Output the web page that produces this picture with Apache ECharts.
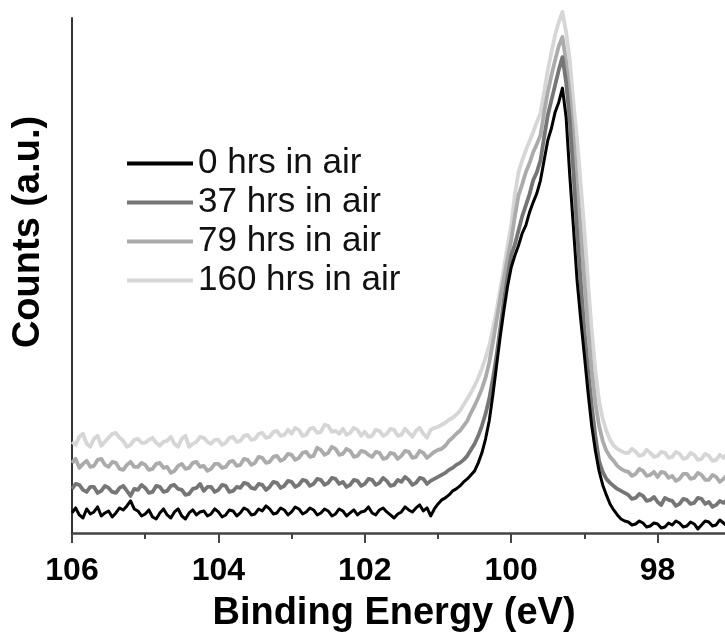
<!DOCTYPE html>
<html>
<head>
<meta charset="utf-8">
<script src="https://cdn.jsdelivr.net/npm/echarts@6/dist/echarts.min.js"></script>
<style>
html,body{margin:0;padding:0;background:#fff;}
#chart{width:725px;height:635px;}
</style>
</head>
<body>
<div id="chart"></div>
<script>
// Binding energy grid (eV)
var energy = [
106.00,105.95,105.90,105.85,105.80,105.75,105.70,105.65,105.60,105.55,105.50,105.45,105.40,105.35,105.30,105.25,105.20,105.15,105.10,105.05,
105.00,104.95,104.90,104.85,104.80,104.75,104.70,104.65,104.60,104.55,104.50,104.45,104.40,104.35,104.30,104.25,104.20,104.15,104.10,104.05,
104.00,103.95,103.90,103.85,103.80,103.75,103.70,103.65,103.60,103.55,103.50,103.45,103.40,103.35,103.30,103.25,103.20,103.15,103.10,103.05,
103.00,102.95,102.90,102.85,102.80,102.75,102.70,102.65,102.60,102.55,102.50,102.45,102.40,102.35,102.30,102.25,102.20,102.15,102.10,102.05,
102.00,101.95,101.90,101.85,101.80,101.75,101.70,101.65,101.60,101.55,101.50,101.45,101.40,101.35,101.30,101.25,101.20,101.15,101.10,101.05,
101.00,100.95,100.90,100.85,100.80,100.75,100.70,100.65,100.60,100.55,100.50,100.45,100.40,100.35,100.30,100.25,100.20,100.15,100.10,100.05,
100.00,99.95,99.90,99.85,99.80,99.75,99.70,99.65,99.60,99.55,99.50,99.45,99.40,99.35,99.30,99.25,99.20,99.15,99.10,99.05,
99.00,98.95,98.90,98.85,98.80,98.75,98.70,98.65,98.60,98.55,98.50,98.45,98.40,98.35,98.30,98.25,98.20,98.15,98.10,98.05,
98.00,97.95,97.90,97.85,97.80,97.75,97.70,97.65,97.60,97.55,97.50,97.45,97.40,97.35,97.30,97.25,97.20,97.15,97.10,97.05,97.00
];
var seriesNames = ['0 hrs in air','37 hrs in air','79 hrs in air','160 hrs in air'];
var counts0 = [
20,25,18,15,24,19,21,26,17,20,22,16,20,25,23,27,32,24,22,17,
19,23,16,14,20,24,18,15,21,24,17,14,20,23,18,21,22,17,19,24,
21,16,18,23,22,17,20,25,23,18,19,24,22,27,24,19,20,25,23,18,
21,26,24,19,21,25,23,18,20,24,22,17,19,24,22,17,20,23,18,21,
22,26,20,18,23,25,21,18,15,19,21,26,23,21,25,28,22,25,17,24,
29,33,35,38,42,44,47,51,54,58,62,70,80,94,112,138,167,196,222,246,
265,277,287,299,307,320,330,339,352,372,392,404,420,430,444,415,357,305,252,213,
177,140,107,82,62,48,38,29,23,18,14,12,11,8,9,12,10,6,7,10,
9,5,6,10,8,12,10,6,7,11,9,4,8,12,11,7,8,13,10,7,9
];
var counts37 = [
44,49,48,43,41,46,46,40,42,47,45,41,40,45,47,42,37,44,43,48,
45,40,41,47,46,41,42,47,48,44,43,38,39,44,45,49,42,46,46,41,
43,48,47,41,42,46,45,50,49,45,44,49,48,43,46,51,50,45,47,52,
51,46,48,53,52,47,49,54,53,48,50,55,54,49,51,46,48,53,52,47,
49,54,53,48,50,55,52,47,48,53,51,56,53,48,50,55,54,49,52,54,
56,58,60,63,65,68,70,73,77,83,89,97,107,119,134,154,177,204,232,256,
277,288,302,316,327,338,352,360,372,395,417,432,447,462,475,450,412,360,302,250,
202,162,127,97,72,61,54,50,47,44,42,40,38,34,35,39,37,32,33,36,
31,28,35,33,32,27,29,34,33,29,30,35,34,29,31,26,28,32,30,33,31
];
var counts79 = [
70,74,65,69,72,66,67,73,74,68,66,71,70,64,63,68,71,66,66,70,
68,63,64,69,70,65,66,60,62,67,69,64,65,70,71,66,67,62,64,69,
69,65,66,71,72,67,68,74,73,68,70,76,75,70,71,76,77,72,74,79,
78,73,75,80,81,76,77,85,83,78,80,86,84,78,79,84,82,76,77,82,
81,78,76,81,80,74,75,80,79,74,77,82,81,75,76,82,80,75,78,81,
83,84,87,92,95,99,102,107,112,120,127,135,144,155,170,190,212,234,254,274,
292,316,337,348,360,369,380,388,397,420,440,457,472,486,495,470,437,395,347,300,
252,205,162,130,107,92,82,76,72,67,64,62,61,57,59,64,62,57,58,61,
56,61,60,55,57,52,54,59,59,54,55,60,58,53,53,58,56,51,54,58,55
];
var counts160 = [
91,88,96,99,89,86,94,97,87,91,95,99,100,95,92,86,88,93,94,90,
90,93,95,90,87,91,92,96,89,86,94,97,86,89,91,96,95,91,89,93,
93,88,90,95,96,91,92,97,98,93,94,99,100,95,96,101,102,97,98,103,
99,105,103,97,98,104,105,100,101,108,107,101,102,99,104,98,100,105,103,97,
101,96,97,103,102,97,99,104,103,97,98,104,100,96,102,105,99,95,103,105,
106,108,110,113,115,118,122,128,134,140,147,155,164,175,187,204,222,243,264,287,
307,338,360,372,382,391,400,410,419,440,462,480,497,510,520,500,472,430,392,348,
302,250,202,162,132,114,102,93,87,84,82,80,80,84,81,77,78,83,80,76,
77,81,80,75,76,81,79,74,75,80,78,73,74,79,77,72,73,78,75,79,76
];
var xTicks = [106,104,102,100,98];

function pairs(vals){ return energy.map(function(e,i){ return [e, vals[i]]; }); }

var colors = ['#000000','#767676','#ababab','#d6d6d6'];
var allCounts = [counts0, counts37, counts79, counts160];
var FONT = '"Liberation Sans", Arial, sans-serif';

var series = [];
for (var k = allCounts.length - 1; k >= 0; k--) {
  series.push({
    name: seriesNames[k],
    type: 'line',
    data: pairs(allCounts[k]),
    showSymbol: false,
    symbol: 'none',
    clip: false,
    lineStyle: { color: colors[k], width: k === 0 ? 3 : 3.8, join: 'round' },
    itemStyle: { color: colors[k] },
    animation: false,
    z: 10 - k
  });
}

var chart = echarts.init(document.getElementById('chart'), null, {renderer: 'canvas'});
chart.setOption({
  backgroundColor: '#ffffff',
  animation: false,
  grid: { left: 72, right: -79, top: 18, bottom: 102, containLabel: false, outerBoundsMode: 'none' },
  legend: {
    data: seriesNames,
    orient: 'vertical',
    left: 122,
    top: 139,
    icon: 'rect',
    itemWidth: 66,
    itemHeight: 4,
    itemGap: 0,
    textStyle: { fontFamily: FONT, fontSize: 35, color: '#111', lineHeight: 39 },
    selectedMode: false
  },
  xAxis: {
    type: 'value',
    inverse: true,
    min: 96,
    max: 106,
    interval: 2,
    axisLine: { show: true, onZero: false, lineStyle: { color: '#444', width: 2.5 } },
    axisTick: { show: true, inside: false, length: 10, lineStyle: { color: '#444', width: 2 } },
    minorTick: { show: true, splitNumber: 2, length: 6, lineStyle: { color: '#444', width: 2 } },
    splitLine: { show: false },
    axisLabel: {
      margin: 22,
      fontFamily: FONT, fontSize: 32, fontWeight: 'bold', color: '#000',
      formatter: function(v){ return xTicks.indexOf(v) >= 0 ? String(v) : ''; }
    }
  },
  yAxis: {
    type: 'value',
    min: 0,
    max: 514,
    axisLine: { show: true, lineStyle: { color: '#333', width: 2 } },
    axisTick: { show: false },
    axisLabel: { show: false },
    splitLine: { show: false }
  },
  graphic: [
    { type: 'text', x: 394, y: 614, z: 100,
      style: { text: 'Binding Energy (eV)', fontFamily: FONT, fontSize: 38, fontWeight: 'bold', fill: '#000', align: 'center', verticalAlign: 'middle' } },
    { type: 'text', x: 29, y: 232, rotation: Math.PI / 2, z: 100,
      style: { text: 'Counts (a.u.)', fontFamily: FONT, fontSize: 38, fontWeight: 'bold', fill: '#000', align: 'center', verticalAlign: 'middle' } }
  ],
  series: series
});
</script>
</body>
</html>
